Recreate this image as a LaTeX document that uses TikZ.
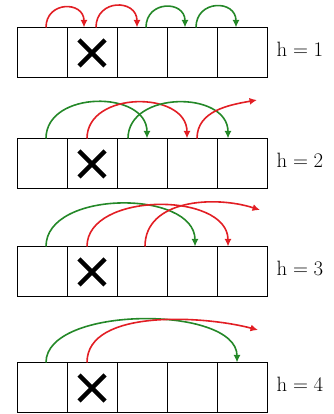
\documentclass[tikz,border=0pt]{standalone}
\usetikzlibrary{positioning,arrows.meta}
\definecolor{hopred}{RGB}{226,30,36}
\definecolor{hopgreen}{RGB}{36,136,40}
\begin{document}
\begin{tikzpicture}[
	x=1pt, y=1pt,
	cell/.style={ draw, line width=1pt, inner sep=0pt, minimum width=50pt, minimum height=50pt },
	hopr/.style={ hopred, line width=1.6pt, -{Latex[length=7.5pt,width=7pt]} },
	hopg/.style={ hopgreen, line width=1.6pt, -{Latex[length=7.5pt,width=7pt]} },
	hlabel/.style={ anchor=base west, inner sep=0pt, font=\fontsize{21}{25}\selectfont }
]
\useasboundingbox (0,0) rectangle (333,414);

\foreach \row/\y in {1/361,2/250,3/142,4/26} {
	\foreach \col in {0,...,4} {
		\node[cell] (r\row-\col) at (42+50*\col,\y) {};
	}
	\draw[line width=4.5pt] ([shift={(-13pt,-13pt)}]r\row-1.center) -- ([shift={(13pt,13pt)}]r\row-1.center)
		([shift={(-13pt,13pt)}]r\row-1.center) -- ([shift={(13pt,-13pt)}]r\row-1.center);
	\node[hlabel] (h\row) at ([xshift=9pt,yshift=-4pt]r\row-4.east) {$\mathrm{h}=\row$};
}

% h = 1
\draw[hopr] ([xshift=4pt]r1-0.north) to [out=90,in=90,looseness=1.8] ([xshift=-8pt]r1-1.north);
\draw[hopr] ([xshift=4pt]r1-1.north) to [out=90,in=90,looseness=1.8] ([xshift=-5pt]r1-2.north);
\draw[hopg] ([xshift=4pt]r1-2.north) to [out=90,in=90,looseness=1.8] ([xshift=-7pt]r1-3.north);
\draw[hopg] ([xshift=4pt]r1-3.north) to [out=90,in=90,looseness=1.8] ([xshift=-6pt]r1-4.north);

% h = 2
\coordinate (out2) at (257,314);
\draw[hopg] ([xshift=4pt]r2-0.north) to [out=90,in=90,looseness=1.23] ([xshift=5pt]r2-2.north);
\draw[hopr] ([xshift=-5pt]r2-1.north) to [out=90,in=90,looseness=1.23] ([xshift=-5pt]r2-3.north);
\draw[hopg] ([xshift=-14pt]r2-2.north) to [out=90,in=90,looseness=1.23] ([xshift=-14pt]r2-4.north);
\draw[hopr] ([xshift=5pt]r2-3.north) to [out=90,in=190] (out2);

% h = 3
\coordinate (out3) at (260,204);
\draw[hopg] ([xshift=4pt]r3-0.north) to [out=90,in=90,looseness=0.98] ([xshift=3pt]r3-3.north);
\draw[hopr] ([xshift=-5pt]r3-1.north) to [out=90,in=90,looseness=1.0] ([xshift=-14pt]r3-4.north);
\draw[hopr] ([xshift=3pt]r3-2.north) to [out=90,in=162] (out3);

% h = 4
\coordinate (out4) at (258,84);
\draw[hopg] ([xshift=4pt]r4-0.north) to [out=90,in=90,looseness=0.77] ([xshift=-5pt]r4-4.north);
\draw[hopr] ([xshift=-5pt]r4-1.north) to [out=90,in=165,looseness=0.8] (out4);

\end{tikzpicture}
\end{document}
